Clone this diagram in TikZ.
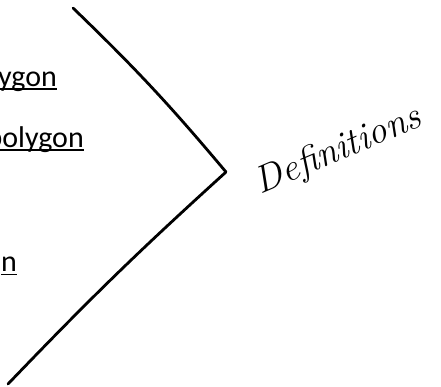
\documentclass[tikz,border=0pt]{standalone}
\usepackage{fontspec}
\newfontfamily\notefont{Carlito}
\usetikzlibrary{calc}
\tikzset{
  term/.style={inner sep=0pt,anchor=base east,font=\notefont\fontsize{30}{36}\selectfont},
  uline/.style={line width=1.4pt,draw=black},
  bracket/.style={line width=2.8pt,line join=round,line cap=round,draw=black},
  hand/.style={inner sep=0pt,anchor=base,rotate=23,font=\itshape\fontsize{38}{44}\selectfont}
}
\begin{document}
\begin{tikzpicture}[x=1pt,y=-1pt]
    \path[use as bounding box] (0,0) rectangle (441,386);
    \clip (0,0) rectangle (441,386);

    % terms cut at the left edge
    \node[term] (reg) at (57,86) {ygon};
    \node[term] (irr) at (84,147) {polygon};
    \node[term] (last) at (17,271) {n};
    \draw[uline] ([yshift=-3pt]reg.base west) -- ([yshift=-3pt]reg.base east);
    \draw[uline] ([yshift=-3pt]irr.base west) -- ([yshift=-3pt]irr.base east);
    \draw[uline] ([yshift=-3.5pt]last.base west) -- ([yshift=-3.5pt]last.base east);

    % the brace
    \coordinate (top) at (73,8);
    \coordinate (tip) at (226,172);
    \coordinate (bot) at (8,384);
    \draw[bracket] (top) to[bend left=3] (tip) to[bend right=2] (bot);

    \node[hand] (defs) at (342,160) {Definitions};
  \end{tikzpicture}
\end{document}
